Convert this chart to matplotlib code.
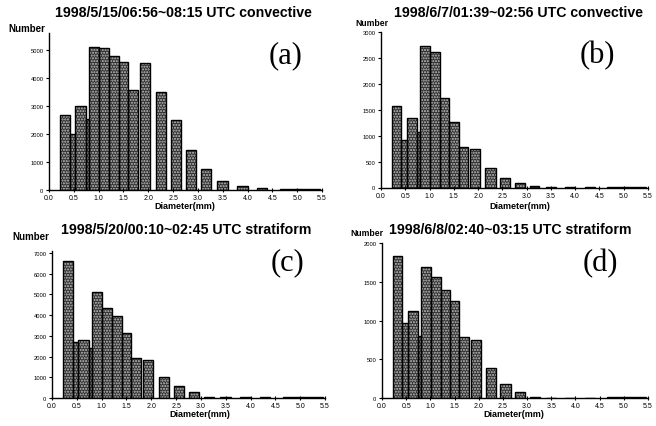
import numpy as np
import matplotlib.pyplot as plt

plt.rcParams["font.family"] = ["Liberation Sans", "DejaVu Sans"]

# drop-size classes (mm): lower / upper edge of each channel
d_lo = [0.22, 0.42, 0.53, 0.74, 0.81, 1.01, 1.21, 1.41, 1.60, 1.84,
        2.15, 2.45, 2.76, 3.06, 3.39, 3.78, 4.20, 4.65, 5.05]
d_hi = [0.42, 0.53, 0.74, 0.81, 1.01, 1.21, 1.41, 1.60, 1.80, 2.04,
        2.36, 2.66, 2.96, 3.26, 3.60, 4.00, 4.40, 5.05, 5.45]

# drop counts per class
conv_0515 = [2680, 2000, 3000, 2540, 5100, 5080, 4780, 4560, 3550, 4540,
             3510, 2490, 1420, 740, 320, 150, 70, 45, 40]
conv_0607 = [1580, 920, 1345, 1070, 2730, 2620, 1730, 1270, 790, 745,
             380, 185, 80, 20, 12, 8, 8, 8, 8]
strat_0520 = [6610, 2690, 2800, 2420, 5110, 4350, 3980, 3130, 1920, 1850,
              1000, 580, 270, 50, 30, 25, 25, 25, 25]
strat_0608 = [1838, 966, 1129, 807, 1696, 1567, 1396, 1258, 786, 755,
              387, 184, 85, 20, 10, 8, 8, 15, 20]

titles = [
    "1998/5/15/06:56~08:15 UTC convective",
    "1998/6/7/01:39~02:56 UTC convective",
    "1998/5/20/00:10~02:45 UTC stratiform",
    "1998/6/8/02:40~03:15 UTC stratiform",
]
tags = ["(a)", "(b)", "(c)", "(d)"]
x_ticks = np.arange(0, 5.51, 0.5)
y_ticks = [
    np.arange(0, 5001, 1000),
    np.arange(0, 3001, 500),
    np.arange(0, 7001, 1000),
    np.arange(0, 2001, 500),
]

W, H = 656, 427


def px(x, y):
    return x / W, 1 - y / H


def drawPanel(fig, box, counts, title, tag, yticks, ymax, title_xy, num_xy, num_size, xl_xy, tag_xy):
    x0, y0, x1, y1 = box
    ax = fig.add_axes([x0 / W, 1 - y1 / H, (x1 - x0) / W, (y1 - y0) / H])
    lo = np.array(d_lo)
    wd = np.array(d_hi) - lo
    # speckled fill first, then the black outline on top
    ax.bar(lo, counts, width=wd, align="edge", color="#303030",
           edgecolor="#c4c4c4", hatch="......", linewidth=0)
    ax.bar(lo, counts, width=wd, align="edge", fill=False,
           edgecolor="black", linewidth=1.0)
    ax.set_xlim(0, 5.5)
    ax.set_ylim(0, ymax)
    ax.set_xticks(x_ticks)
    ax.set_xticklabels(["%.1f" % t for t in x_ticks])
    ax.set_yticks(yticks)
    ax.set_yticklabels([str(int(t)) for t in yticks])
    for s in ["top", "right"]:
        ax.spines[s].set_visible(False)
    for s in ["left", "bottom"]:
        ax.spines[s].set_linewidth(1.0)
    ax.tick_params(axis="x", direction="inout", length=3, width=0.8,
                   labelsize=5, pad=1.5)
    ax.tick_params(axis="y", direction="out", length=2.5, width=0.8,
                   labelsize=4.2, pad=1.5)
    fig.text(*px(*title_xy), title, ha="center", va="center",
             fontsize=10.2, fontweight="bold")
    fig.text(*px(*num_xy), "Number", ha="left", va="center",
             fontsize=num_size, fontweight="bold")
    fig.text(*px(*xl_xy), "Diameter(mm)", ha="center", va="center",
             fontsize=6.5, fontweight="bold")
    fig.text(*px(*tag_xy), tag, ha="center", va="center",
             fontsize=22, family="Liberation Serif")
    return ax


fig = plt.figure(figsize=(W / 100, H / 100), dpi=100)

drawPanel(fig, (49, 34, 322, 191), conv_0515, titles[0], tags[0], y_ticks[0], 5600,
          (183, 13), (8, 29), 7.0, (185, 207), (286, 56))
drawPanel(fig, (381, 33, 648, 188.5), conv_0607, titles[1], tags[1], y_ticks[1], 3000,
          (519, 13), (355, 23), 6.2, (520, 207), (597, 56))
drawPanel(fig, (52, 252, 325, 399), strat_0520, titles[2], tags[2], y_ticks[2], 7100,
          (186, 230), (12, 237), 7.0, (200, 415), (288, 263))
drawPanel(fig, (382, 244, 648, 399.3), strat_0608, titles[3], tags[3], y_ticks[3], 2000,
          (510, 230), (350, 234), 6.2, (514, 415), (600, 264))

fig.savefig("out.png", dpi=100)
